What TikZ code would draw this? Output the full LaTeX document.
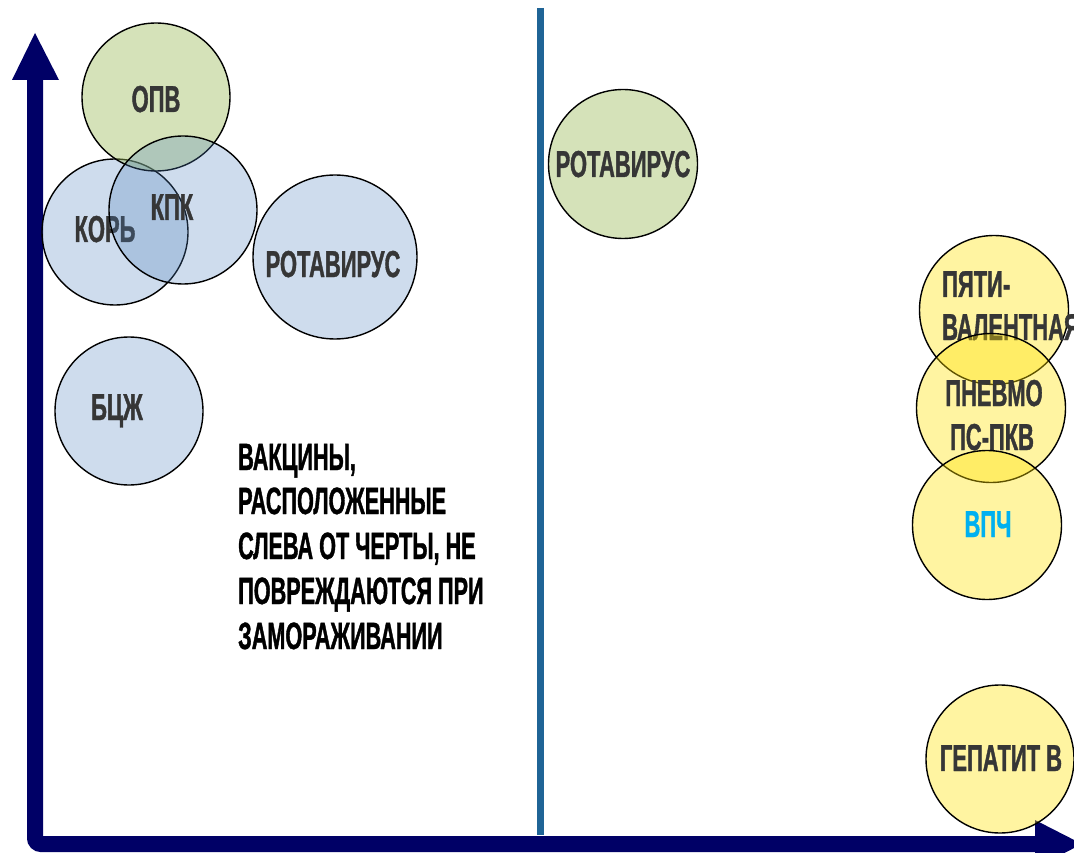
\documentclass[tikz,border=0pt]{standalone}
\usepackage{fontspec}
\setmainfont{Liberation Sans}[FakeStretch=0.585,FakeBold=1]
\newfontfamily\notefont{Liberation Sans}[FakeStretch=0.57,FakeBold=1]
\definecolor{axisnavy}{HTML}{000066}
\definecolor{divline}{HTML}{1F6496}
\definecolor{cblue}{HTML}{4F81BD}
\definecolor{cgreen}{HTML}{9BBB59}
\definecolor{cyellow}{RGB}{255,225,0}
\definecolor{ltext}{HTML}{363636}
\definecolor{vpch}{HTML}{00B0F0}
\begin{document}
\begin{tikzpicture}[x=1pt,y=-1pt,
  bubble/.style={circle,draw=black,line width=1.4pt,inner sep=0pt,minimum size=#1},
  bluec/.style={fill=cblue,fill opacity=0.28},
  greenc/.style={fill=cgreen,fill opacity=0.42},
  yellowc/.style={fill=cyellow,fill opacity=0.37},
  lbl/.style={anchor=base,inner sep=0pt,text=ltext,font=\fontsize{37.5}{43}\selectfont\bfseries},
  lbll/.style={lbl,anchor=base west},
  note/.style={anchor=base west,inner sep=0pt,text=black,font=\notefont\fontsize{38}{45}\selectfont\bfseries}]
\useasboundingbox (0,0) rectangle (1074,853);
% axes
\coordinate (o) at (35,844);
\coordinate (ytop) at (35,80);
\coordinate (xend) at (1036,844);
\draw[axisnavy,line width=16pt,rounded corners=6pt] (ytop) -- (o) -- (xend);
\fill[axisnavy] (12,80) -- (59,80) -- (35,33) -- cycle;
\fill[axisnavy] (1035,820) -- (1035,868) -- (1082,844) -- cycle;
% divider
\coordinate (dtop) at (540,8);
\coordinate (dbot) at (540,835);
\draw[divline,line width=7pt] (dtop) -- (dbot);
% left circles
\node[bubble=146pt,bluec] (kor) at (115,232) {};
\node[lbl] (korl) at (105,242) {КОРЬ};
\node[bubble=148pt,greenc] (opv) at (156,97) {};
\node[lbl] (opvl) at (156,112) {ОПВ};
\node[bubble=148pt,bluec] (kpk) at (183,210) {};
\node[lbl] (kpkl) at (172,220) {КПК};
\node[bubble=164pt,bluec] (rotl) at (335,257) {};
\node[lbl] (rotll) at (333,277) {РОТАВИРУС};
\node[bubble=148pt,bluec] (bcg) at (129,411) {};
\node[lbl] (bcgl) at (117,420) {БЦЖ};
% right circles
\node[bubble=149pt,greenc] (rotr) at (623,164) {};
\node[lbl] (rotrl) at (623,177) {РОТАВИРУС};
\node[bubble=149pt,yellowc] (pyat) at (994,310) {};
\node[lbll] (pyat1) at (942,297) {ПЯТИ-};
\node[lbll] (pyat2) at (942,340) {ВАЛЕНТНАЯ};
\node[bubble=149pt,yellowc] (pnev) at (991,408) {};
\node[lbl] (pnev1) at (994,406) {ПНЕВМО};
\node[lbl] (pnev2) at (992,450) {ПС-ПКВ};
\node[bubble=149pt,yellowc] (vpch) at (987,525) {};
\node[lbl,text=vpch] (vpchl) at (988,537) {ВПЧ};
\node[bubble=148pt,yellowc] (hepb) at (1000,759) {};
\node[lbl] (hepbl) at (1001,771) {ГЕПАТИТ В};
% note
\node[note] (n1) at (238,470) {ВАКЦИНЫ,};
\node[note] (n2) at (238,514) {РАСПОЛОЖЕННЫЕ};
\node[note] (n3) at (238,559) {СЛЕВА ОТ ЧЕРТЫ, НЕ};
\node[note] (n4) at (238,604) {ПОВРЕЖДАЮТСЯ ПРИ};
\node[note] (n5) at (238,649) {ЗАМОРАЖИВАНИИ};
\end{tikzpicture}
\end{document}
